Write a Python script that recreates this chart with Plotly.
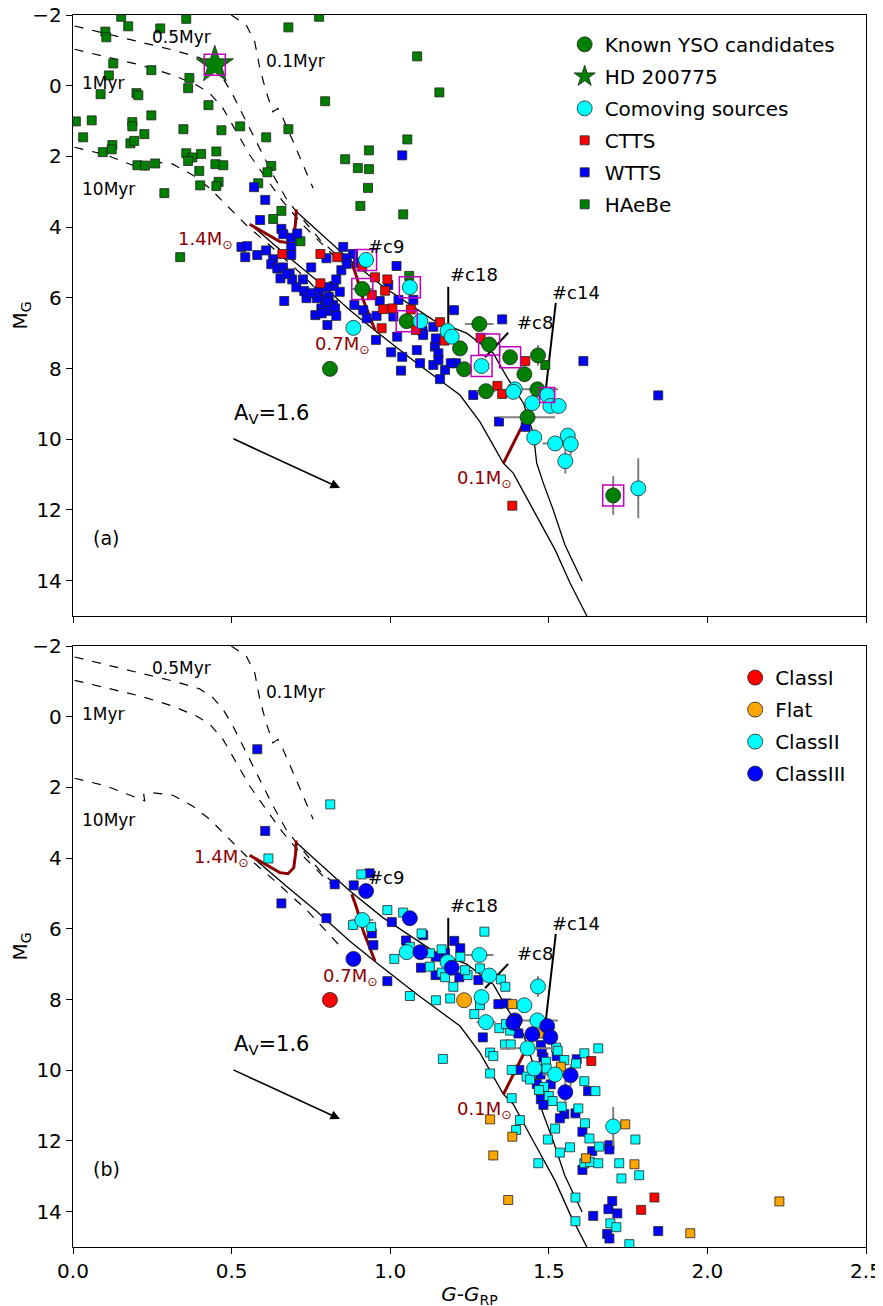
import plotly.graph_objects as go
from plotly.subplots import make_subplots

# ---- model curves (G-G_RP, M_G) ----
iso01_x = [0.499, 0.546, 0.573, 0.589, 0.609, 0.630, 0.646, 0.662, 0.694, 0.725, 0.757]
iso01_y = [-2.0, -1.72, -1.24, -0.49, 0.17, 0.74, 0.64, 0.92, 1.58, 2.24, 2.90]
iso05_x = [0.005, 0.105, 0.210, 0.315, 0.399, 0.441, 0.473, 0.504, 0.546, 0.589, 0.631, 0.672, 0.704, 0.779, 0.835]
iso05_y = [-1.69, -1.48, -1.24, -1.01, -0.79, -0.54, -0.21, 0.26, 1.02, 1.77, 2.53, 3.19, 3.56, 4.36, 4.82]
iso1_x = [0.005, 0.105, 0.210, 0.315, 0.389, 0.431, 0.473, 0.515, 0.557, 0.609, 0.662, 0.725, 0.799, 0.841]
iso1_y = [-1.03, -0.82, -0.59, -0.30, -0.02, 0.21, 0.64, 1.30, 1.96, 2.62, 3.28, 3.94, 4.60, 4.98]
iso10_x = [0.005, 0.105, 0.200, 0.226, 0.223, 0.252, 0.315, 0.378, 0.431, 0.483, 0.546, 0.631, 0.735, 0.847]
iso10_y = [1.74, 1.96, 2.29, 2.38, 2.20, 2.15, 2.22, 2.53, 2.90, 3.37, 3.94, 4.60, 5.45, 6.54]

seq_hi_x = [0.704, 0.768, 0.873, 0.978, 1.136, 1.241, 1.325, 1.367, 1.420, 1.451, 1.462, 1.483, 1.514, 1.551, 1.605]
seq_hi_y = [3.56, 4.08, 4.93, 5.69, 6.63, 7.00, 7.57, 8.23, 8.98, 9.83, 10.68, 11.25, 12.00, 12.99, 14.01]
seq_lo_x = [0.562, 0.672, 0.768, 0.873, 0.957, 1.084, 1.220, 1.283, 1.357, 1.388, 1.451, 1.520, 1.567, 1.620]
seq_lo_y = [3.94, 4.79, 5.50, 6.35, 6.96, 7.85, 8.75, 9.51, 10.68, 10.96, 12.00, 13.13, 14.07, 15.0]

m14_x = [0.557, 0.609, 0.652, 0.678, 0.696, 0.702, 0.704]
m14_y = [3.92, 4.18, 4.41, 4.44, 4.27, 3.85, 3.50]
m07_x = [0.879, 0.894, 0.915, 0.936, 0.952]
m07_y = [5.02, 5.40, 6.06, 6.53, 6.91]
m01_x = [1.420, 1.388, 1.357]
m01_y = [9.55, 10.12, 10.68]

c18_x = [1.183, 1.183]
c18_y = [5.69, 6.72]
c14_x = [1.522, 1.491]
c14_y = [6.14, 8.56]
c8_x = [1.372, 1.299]
c8_y = [6.99, 7.68]

# ---- known YSO candidates and comoving sources ----
known_x = [0.912, 1.052, 0.810, 1.220, 1.281, 1.312, 1.233, 1.302, 1.378, 1.466, 1.423, 1.464, 1.433, 1.703]
known_y = [5.75, 6.66, 8.01, 7.43, 6.74, 7.32, 8.02, 8.64, 7.68, 7.63, 8.16, 8.59, 9.38, 11.59]
known_xerr = [0.035, 0, 0, 0, 0.045, 0, 0, 0.03, 0, 0, 0, 0.065, 0.087, 0]
known_yerr = [0, 0, 0, 0, 0, 0, 0, 0, 0, 0.29, 0, 0, 0, 0.55]
known_cls = ["II", "II", "I", "", "II", "II", "Flat", "II", "", "II", "II", "II", "II", "II"]

comov_x = [0.924, 1.062, 0.884, 1.095, 1.181, 1.194, 1.288, 1.393, 1.388, 1.448, 1.495, 1.505, 1.531,
           1.454, 1.520, 1.560, 1.569, 1.552, 1.782]
comov_y = [4.93, 5.70, 6.85, 6.66, 6.94, 7.10, 7.93, 8.59, 8.66, 8.98, 8.75, 9.06, 9.06,
           9.95, 10.12, 9.90, 10.14, 10.62, 11.39]
comov_xerr = [0, 0, 0, 0, 0, 0, 0, 0, 0, 0, 0, 0, 0, 0, 0.04, 0, 0, 0, 0]
comov_yerr = [0, 0, 0, 0, 0, 0, 0, 0, 0, 0, 0, 0, 0, 0.2, 0, 0, 0.32, 0.35, 0.85]
comov_cls = ["III", "III", "III", "III", "II", "III", "II", "III", "III", "III", "III", "III", "",
             "II", "II", "", "III", "III", ""]

star_x = [0.447]
star_y = [-0.59]

box_x = [0.447, 0.924, 0.912, 1.062, 1.052, 1.312, 1.288, 1.378, 1.703]
box_y = [-0.59, 4.93, 5.75, 5.70, 6.66, 7.32, 7.93, 7.68, 11.59]
sbox_x = [1.495]
sbox_y = [8.75]

# ---- literature samples (panel a) ----
ctts_x = [0.660, 0.780, 0.833, 0.780, 0.912, 0.952, 0.991, 0.984, 0.942, 0.978, 1.007, 0.973, 1.065,
          1.081, 1.157, 1.171, 1.285, 1.338, 1.426, 1.353, 1.385]
ctts_y = [4.76, 4.76, 4.85, 5.59, 5.12, 5.42, 5.48, 5.80, 5.92, 6.32, 6.30, 6.86, 6.33,
          6.91, 6.69, 7.21, 7.13, 8.49, 7.79, 8.72, 11.88]

wtts_x = [0.571, 0.606, 0.590, 0.657, 0.663, 0.688, 0.707, 0.688, 0.688, 0.531, 0.549, 0.543, 0.581,
          0.609, 0.631, 0.625, 0.644, 0.662, 0.683, 0.691, 0.725, 0.704, 0.729, 0.736, 0.751, 0.775,
          0.799, 0.822, 0.841, 0.830, 0.852, 0.883, 0.846, 0.862, 0.769, 0.795, 0.666, 0.820, 0.783,
          0.804, 0.654, 0.674, 0.750, 0.798, 0.806, 0.805, 0.826, 0.764, 0.784, 0.830, 0.802, 0.863,
          0.899, 0.887, 0.915, 0.926, 0.957, 0.967, 0.955, 0.994, 1.020, 1.010, 1.022, 1.038, 1.003,
          1.034, 1.073, 1.102, 1.084, 1.094, 1.136, 1.141, 1.152, 1.173, 1.136, 1.157, 1.201, 1.207,
          1.262, 1.343, 1.026, 1.104, 1.144, 1.152, 1.191, 1.353, 1.427, 1.609, 1.845, 1.038]
wtts_y = [2.87, 3.23, 3.80, 4.05, 4.20, 4.30, 4.18, 4.57, 4.79, 4.56, 4.54, 4.85, 4.79,
          4.66, 4.91, 5.05, 5.17, 5.14, 5.31, 5.48, 5.48, 5.70, 5.81, 6.01, 5.14, 5.81,
          4.88, 5.67, 5.83, 5.48, 4.56, 4.76, 5.22, 4.88, 6.01, 6.06, 6.09, 6.20, 6.30,
          6.37, 5.45, 5.33, 5.87, 5.70, 5.97, 6.11, 6.30, 6.49, 6.44, 6.51, 6.77, 5.04,
          5.01, 6.20, 6.35, 6.58, 6.51, 6.09, 7.19, 5.64, 5.10, 6.53, 7.10, 7.67, 7.54,
          8.06, 6.06, 6.94, 7.48, 7.85, 6.82, 7.38, 7.57, 8.04, 7.90, 8.30, 6.35, 7.85,
          8.75, 9.50, 6.06, 7.05, 7.15, 7.76, 7.85, 6.61, 9.65, 7.79, 8.76, 1.97]

haebe_x = [0.152, 0.357, 0.174, 0.275, 0.679, 0.776, 0.102, 0.105, 0.127, 0.247, 0.113, 0.367, 0.363,
           0.087, 0.200, 0.206, 0.427, 0.795, 0.009, 0.059, 0.187, 0.187, 0.247, 0.348, 0.468, 0.527,
           0.225, 0.032, 0.609, 0.679, 0.124, 0.122, 0.181, 0.193, 0.094, 0.357, 0.376, 0.363, 0.404,
           0.452, 0.203, 0.227, 0.259, 0.449, 0.474, 0.398, 0.625, 0.613, 0.459, 0.452, 0.401, 0.584,
           0.288, 0.657, 0.631, 0.858, 0.898, 0.933, 0.933, 0.930, 0.906, 0.717, 0.338, 1.085, 1.155,
           1.054, 1.041, 1.060, 1.489]
haebe_y = [-1.95, -1.89, -1.68, -1.62, -1.65, -1.95, -1.53, -1.37, -0.63, -0.44, -0.29, -0.22, 0.07,
           0.24, 0.21, 0.27, 0.55, 0.44, 1.01, 0.98, 1.03, 1.15, 0.84, 1.23, 1.26, 1.15,
           1.37, 1.46, 1.46, 1.23, 1.68, 1.80, 1.63, 1.56, 1.88, 1.91, 2.03, 2.13, 1.93,
           1.86, 2.25, 2.26, 2.20, 2.22, 2.25, 2.41, 2.27, 2.45, 2.72, 2.84, 2.82, 2.76,
           3.04, 3.54, 3.77, 2.08, 2.33, 2.36, 1.83, 2.89, 3.40, 4.40, 4.85, -0.83, 0.19,
           1.52, 3.64, 5.38, 7.90]

# ---- YSO sample by infrared class (panel b) ----
sqI_x = [1.634, 1.833, 1.791]
sqI_y = [9.74, 13.60, 13.95]
sqF_x = [1.385, 1.477, 1.538, 1.741, 1.617, 1.770, 1.315, 1.385, 1.325, 1.372, 1.946, 2.227]
sqF_y = [8.13, 8.96, 9.90, 11.53, 12.49, 12.66, 11.39, 11.88, 12.41, 13.67, 14.61, 13.71]
sqII_x = [0.811, 0.616, 0.909, 0.883, 0.940, 0.991, 1.041, 1.013, 1.062, 1.099, 1.125, 1.062, 1.125,
          1.144, 1.162, 1.221, 1.199, 1.189, 1.162, 1.173, 1.244, 1.236, 1.283, 1.297, 1.349, 1.363,
          1.283, 1.265, 1.344, 1.378, 1.362, 1.380, 1.315, 1.325, 1.166, 1.315, 1.383, 1.430, 1.365,
          1.523, 1.491, 1.493, 1.528, 1.549, 1.586, 1.612, 1.656, 1.441, 1.485, 1.500, 1.512, 1.469,
          1.541, 1.593, 1.614, 1.520, 1.497, 1.628, 1.773, 1.659, 1.535, 1.567, 1.467, 1.612, 1.630,
          1.656, 1.722, 1.729, 1.785, 1.397, 1.409, 1.383, 1.584, 1.584, 1.694, 1.713, 1.754, 1.612,
          1.647]
sqII_y = [2.48, 4.01, 4.46, 5.89, 5.95, 5.47, 5.54, 6.85, 7.90, 6.13, 6.69, 6.51, 7.07,
          8.02, 6.58, 6.79, 7.64, 7.97, 7.24, 7.37, 7.31, 7.17, 7.12, 6.08, 7.43, 7.64,
          8.16, 8.41, 8.81, 8.88, 9.27, 9.27, 9.50, 9.60, 9.68, 10.09, 9.99, 10.18, 8.69,
          9.36, 9.76, 9.95, 9.45, 9.71, 9.81, 9.52, 9.38, 10.26, 10.47, 10.73, 10.87, 10.56,
          11.03, 11.08, 11.50, 11.65, 11.96, 11.93, 11.96, 12.16, 12.33, 12.18, 12.63, 12.63, 12.60,
          12.63, 12.63, 13.06, 12.97, 11.69, 11.41, 10.79, 13.60, 14.27, 14.33, 14.44, 14.92, 10.31,
          10.59]
sqIII_x = [0.581, 0.606, 0.825, 0.885, 0.657, 0.799, 0.935, 1.005, 0.942, 0.947, 0.991, 1.050, 1.104,
           1.097, 1.143, 1.144, 1.173, 1.202, 1.221, 1.218, 1.278, 1.341, 1.367, 1.292, 1.404, 1.407,
           1.475, 1.478, 1.483, 1.525, 1.588, 1.474, 1.462, 1.475, 1.483, 1.506, 1.549, 1.584, 1.535,
           1.606, 1.691, 1.691, 1.637, 1.606, 1.640, 1.700, 1.688, 1.716, 1.684, 1.691, 1.845, 1.624]
sqIII_y = [0.92, 3.23, 4.74, 4.77, 5.28, 5.70, 4.43, 5.81, 6.13, 6.46, 7.48, 6.33, 6.18,
           7.10, 7.31, 6.79, 6.69, 6.34, 6.55, 7.37, 7.45, 8.13, 8.11, 9.07, 8.96, 9.99,
           9.29, 9.48, 9.64, 9.60, 9.69, 10.12, 10.39, 10.82, 10.98, 10.40, 11.24, 11.22, 11.36,
           11.74, 12.12, 12.24, 12.29, 12.82, 14.12, 13.70, 13.93, 14.05, 14.63, 14.76, 14.55, 10.59]

FONT = "DejaVu Sans"
GREY = "#808080"
DARKRED = "#8B0000"

fig = make_subplots(rows=2, cols=1, vertical_spacing=0.0244)


def add_models(row, lbl_14, lbl_07, panel):
    for xs, ys in [(iso01_x, iso01_y), (iso05_x, iso05_y), (iso1_x, iso1_y), (iso10_x, iso10_y)]:
        fig.add_trace(go.Scatter(x=xs, y=ys, mode="lines", showlegend=False, hoverinfo="skip",
                                 line=dict(color="black", width=1.2, dash="dash")), row=row, col=1)
    for xs, ys in [(seq_hi_x, seq_hi_y), (seq_lo_x, seq_lo_y)]:
        fig.add_trace(go.Scatter(x=xs, y=ys, mode="lines", showlegend=False, hoverinfo="skip",
                                 line=dict(color="black", width=1.3)), row=row, col=1)
    for xs, ys in [(m14_x, m14_y), (m07_x, m07_y), (m01_x, m01_y)]:
        fig.add_trace(go.Scatter(x=xs, y=ys, mode="lines", showlegend=False, hoverinfo="skip",
                                 line=dict(color=DARKRED, width=3)), row=row, col=1)
    for xs, ys in [(c18_x, c18_y), (c14_x, c14_y), (c8_x, c8_y)]:
        fig.add_trace(go.Scatter(x=xs, y=ys, mode="lines", showlegend=False, hoverinfo="skip",
                                 line=dict(color="black", width=2)), row=row, col=1)

    texts = [("0.5Myr", 0.243, -1.38, 17, "black"), ("0.1Myr", 0.602, -0.70, 17, "black"),
             ("1Myr", 0.022, -0.08, 17, "black"), ("10Myr", 0.022, 2.92, 17, "black"),
             ("1.4M<sub>⊙</sub>", lbl_14[0], lbl_14[1], 18, DARKRED),
             ("0.7M<sub>⊙</sub>", lbl_07[0], lbl_07[1], 18, DARKRED),
             ("0.1M<sub>⊙</sub>", 1.204, 11.13, 18, DARKRED),
             ("#c9", 0.924, 4.56, 18, "black"), ("#c18", 1.182, 5.33, 18, "black"),
             ("#c14", 1.504, 5.84, 18, "black"), ("#c8", 1.393, 6.71, 18, "black"),
             ("A<sub>V</sub>=1.6", 0.501, 9.29, 21, "black"), (panel, 0.057, 12.79, 19, "black")]
    for t, x, y, s, c in texts:
        fig.add_annotation(x=x, y=y, text=t, showarrow=False, xanchor="left", yanchor="middle",
                           font=dict(size=s, color=c, family=FONT), row=row, col=1)
    sfx = "" if row == 1 else str(row)
    fig.add_annotation(x=0.842, y=11.38, ax=0.501, ay=9.97, xref="x" + sfx, yref="y" + sfx,
                       axref="x" + sfx, ayref="y" + sfx, text="", showarrow=True,
                       arrowhead=2, arrowsize=1.2, arrowwidth=1.6, arrowcolor="black")


def squares(xs, ys, color, name, row, legend, show):
    fig.add_trace(go.Scatter(x=xs, y=ys, mode="markers", name=name, showlegend=show,
                             legend=legend, legendgroup=name + legend,
                             marker=dict(symbol="square", size=9, color=color,
                                         line=dict(color="#222222", width=0.8))),
                  row=row, col=1)


def circles(xs, ys, xe, ye, color, name, row, legend, show=True):
    fig.add_trace(go.Scatter(x=xs, y=ys, mode="markers", name=name, showlegend=show,
                             legend=legend, legendgroup=name + legend,
                             error_x=dict(type="data", array=xe, color=GREY, thickness=2, width=0),
                             error_y=dict(type="data", array=ye, color=GREY, thickness=2, width=0),
                             marker=dict(symbol="circle", size=15, color=color,
                                         line=dict(color="#222222", width=0.8))),
                  row=row, col=1)


# ---------- panel (a) ----------
add_models(1, (0.325, 4.36), (0.757, 7.34), "(a)")
squares(haebe_x, haebe_y, "#008000", "HAeBe", 1, "legend", True)
squares(wtts_x, wtts_y, "#0000FF", "WTTS", 1, "legend", True)
squares(ctts_x, ctts_y, "#FF0000", "CTTS", 1, "legend", True)
circles(known_x, known_y, known_xerr, known_yerr, "#008000", "Known YSO candidates", 1, "legend")
circles(comov_x, comov_y, comov_xerr, comov_yerr, "#00FFFF", "Comoving sources", 1, "legend")
fig.add_trace(go.Scatter(x=star_x, y=star_y, mode="markers", name="HD 200775", legend="legend",
                         legendgroup="HD", marker=dict(symbol="star", size=28, color="#008000",
                                                       line=dict(color="#222222", width=0.8))),
              row=1, col=1)
fig.add_trace(go.Scatter(x=box_x, y=box_y, mode="markers", showlegend=False, hoverinfo="skip",
                         marker=dict(symbol="square-open", size=21, color="#BF00BF",
                                     line=dict(width=1.5))), row=1, col=1)
fig.add_trace(go.Scatter(x=sbox_x, y=sbox_y, mode="markers", showlegend=False, hoverinfo="skip",
                         marker=dict(symbol="square-open", size=15, color="#BF00BF",
                                     line=dict(width=1.5))), row=1, col=1)

# legend order for panel (a)
order = {"Known YSO candidates": 1, "HD 200775": 2, "Comoving sources": 3, "CTTS": 4, "WTTS": 5, "HAeBe": 6}
for tr in fig.data:
    if tr.name in order:
        tr.legendrank = order[tr.name]

# ---------- panel (b) ----------
add_models(2, (0.375, 4.0), (0.782, 7.36), "(b)")
squares(sqIII_x, sqIII_y, "#0000FF", "sqIII", 2, "legend2", False)
squares(sqII_x, sqII_y, "#00FFFF", "sqII", 2, "legend2", False)
squares(sqF_x, sqF_y, "#FFA500", "sqF", 2, "legend2", False)
squares(sqI_x, sqI_y, "#FF0000", "sqI", 2, "legend2", False)

all_x = known_x + comov_x
all_y = known_y + comov_y
all_xe = known_xerr + comov_xerr
all_ye = known_yerr + comov_yerr
all_c = known_cls + comov_cls
for cls, color, name in [("I", "#FF0000", "ClassI"), ("Flat", "#FFA500", "Flat"),
                         ("II", "#00FFFF", "ClassII"), ("III", "#0000FF", "ClassIII")]:
    idx = [i for i, c in enumerate(all_c) if c == cls]
    circles([all_x[i] for i in idx], [all_y[i] for i in idx],
            [all_xe[i] for i in idx], [all_ye[i] for i in idx], color, name, 2, "legend2")

axis_common = dict(range=[0, 2.5], showline=True, mirror=True, linecolor="black", linewidth=1.3,
                   ticks="outside", ticklen=6, tickwidth=1.3, tickcolor="black", showgrid=False,
                   zeroline=False, tickvals=[0, 0.5, 1.0, 1.5, 2.0, 2.5], tickformat=".1f",
                   automargin=False, ticklabeloverflow="allow",
                   tickfont=dict(size=20, family=FONT, color="black"))
yaxis_common = dict(range=[15, -2], showline=True, mirror=True, linecolor="black", linewidth=1.3,
                    ticks="outside", ticklen=6, tickwidth=1.3, tickcolor="black", showgrid=False,
                    zeroline=False, tickvals=[-2, 0, 2, 4, 6, 8, 10, 12, 14], automargin=False,
                    ticklabeloverflow="allow",
                    tickfont=dict(size=20, family=FONT, color="black"),
                    title=dict(text="M<sub>G</sub>", font=dict(size=20, family=FONT, color="black"),
                               standoff=10))
fig.update_xaxes(**axis_common)
fig.update_xaxes(showticklabels=False, row=1, col=1)
fig.update_xaxes(title=dict(text="<i>G</i>-<i>G</i><sub>RP</sub>",
                            font=dict(size=20, family=FONT, color="black"), standoff=4), row=2, col=1)
fig.update_yaxes(**yaxis_common)

# the page body adds an 8px offset, so margins are shifted to land the axes where they belong
fig.update_layout(
    width=883, height=1306,
    margin=dict(l=65, r=25, t=7, b=67),
    plot_bgcolor="white", paper_bgcolor="white",
    font=dict(family=FONT, color="black"),
    legend=dict(x=0.62, y=0.992, xanchor="left", yanchor="top", font=dict(size=20, family=FONT),
                bgcolor="rgba(0,0,0,0)", tracegroupgap=3, traceorder="grouped"),
    legend2=dict(x=0.835, y=0.478, xanchor="left", yanchor="top", font=dict(size=20, family=FONT),
                 bgcolor="rgba(0,0,0,0)", tracegroupgap=3, traceorder="grouped"),
)

fig.write_html("out.html")
